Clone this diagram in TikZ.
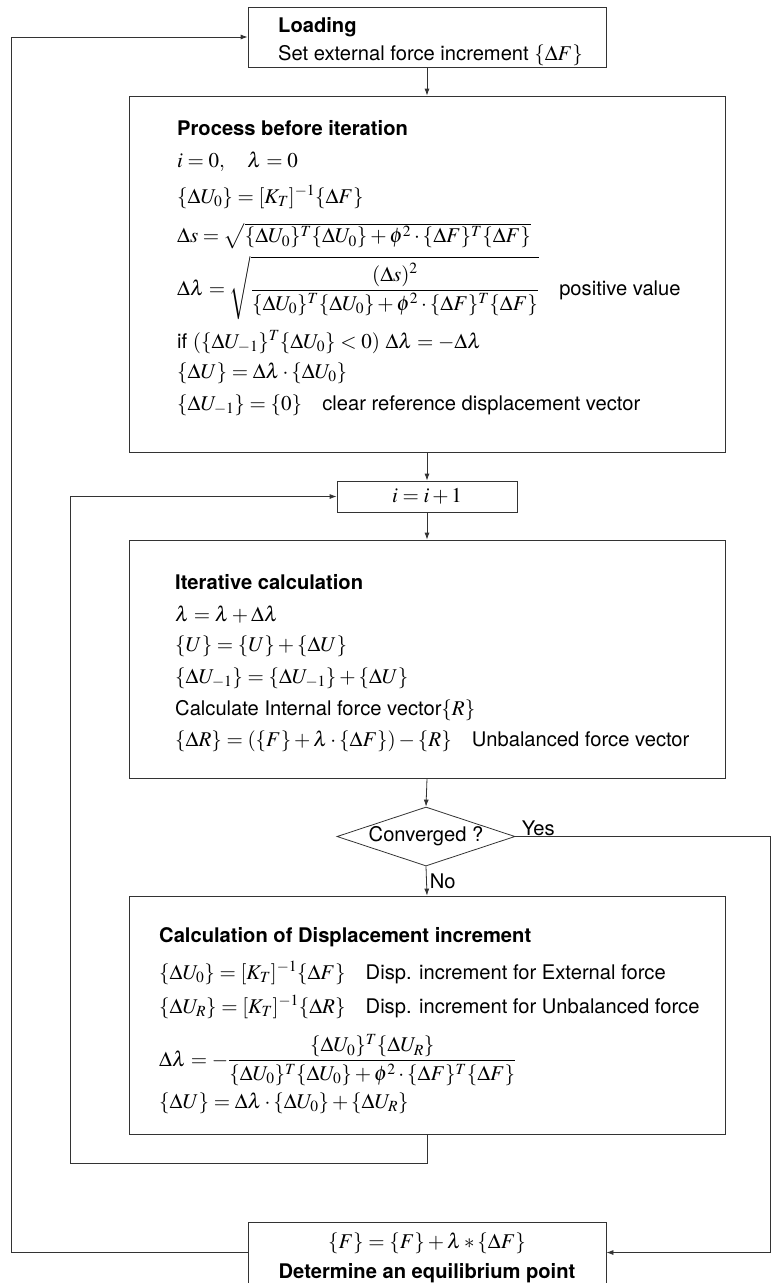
\documentclass[tikz,border=0pt]{standalone}
\usepackage{amsmath}
\usepackage{mathptmx}
\usepackage[no-math]{fontspec}
\setmainfont[Scale=0.96]{TeX Gyre Heros}
\usetikzlibrary{arrows.meta, shapes.geometric}

\begin{document}
\begin{tikzpicture}[
  x=1pt, y=-1pt,
  box/.style={draw=black!80, line width=0.8pt, inner sep=0pt},
  decision/.style={diamond, draw=black!80, line width=0.8pt, inner sep=0pt, aspect=3,
    minimum width=178pt, minimum height=59pt, font=\fontsize{21}{25}\selectfont},
  txt/.style={anchor=west, inner sep=0pt, font=\fontsize{21}{25}\selectfont},
  ttl/.style={anchor=west, inner sep=0pt, font=\fontsize{21}{25}\selectfont\bfseries},
  flow/.style={-{Latex[length=7pt, width=5pt]}, draw=black!80, line width=0.8pt},
]
\useasboundingbox (0,0) rectangle (771,1283);

%% ── Boxes ────────────────────────────────────────────────────────────────────
\node[box, minimum width=358pt, minimum height=60pt]  (load) at (427,37) {};
\node[box, minimum width=596pt, minimum height=356pt] (proc) at (427,274) {};
\node[box, minimum width=180pt, minimum height=31pt, font=\fontsize{21}{25}\selectfont]
  (inc) at (427,496.5) {$i=i+1$};
\node[box, minimum width=596pt, minimum height=238pt] (iter) at (427,659) {};
\node[decision] (conv) at (426,836.5) {Converged ?};
\node[box, minimum width=596pt, minimum height=238pt] (calc) at (427,1015) {};
\node[box, minimum width=358pt, minimum height=61pt]  (eq) at (427,1252.5) {};

%% ── Loading ──────────────────────────────────────────────────────────────────
\node[ttl] (loadttl) at (278,27) {Loading};
\node[txt] (loadtxt) at (278,55) {Set external force increment $\{\Delta F\}$};

%% ── Process before iteration ─────────────────────────────────────────────────
\node[ttl] (procttl) at (177,128) {Process before iteration};
\node[txt] (proc1) at (177,162) {$i=0,\quad \lambda=0$};
\node[txt] (proc2) at (177,197) {$\{\Delta U_0\}=[K_T]^{-1}\{\Delta F\}$};
\node[txt] (proc3) at (177,236)
  {$\Delta s=\sqrt{\{\Delta U_0\}^T\{\Delta U_0\}+\phi^2\cdot\{\Delta F\}^T\{\Delta F\}}$};
\node[txt] (proc4) at (177,288)
  {$\Delta\lambda=\sqrt{\dfrac{(\Delta s)^2}{\{\Delta U_0\}^T\{\Delta U_0\}+\phi^2\cdot\{\Delta F\}^T\{\Delta F\}}}$\quad positive value};
\node[txt] (proc5) at (177,342)
  {if $(\{\Delta U_{-1}\}^T\{\Delta U_0\}<0)\ \Delta\lambda=-\Delta\lambda$};
\node[txt] (proc6) at (177,373) {$\{\Delta U\}=\Delta\lambda\cdot\{\Delta U_0\}$};
\node[txt] (proc7) at (177,405)
  {$\{\Delta U_{-1}\}=\{0\}$\quad clear reference displacement vector};

%% ── Iterative calculation ────────────────────────────────────────────────────
\node[ttl] (iterttl) at (175,582) {Iterative calculation};
\node[txt] (iter1) at (175,615) {$\lambda=\lambda+\Delta\lambda$};
\node[txt] (iter2) at (175,646) {$\{U\}=\{U\}+\{\Delta U\}$};
\node[txt] (iter3) at (175,678) {$\{\Delta U_{-1}\}=\{\Delta U_{-1}\}+\{\Delta U\}$};
\node[txt] (iter4) at (175,710) {Calculate Internal force vector$\{R\}$};
\node[txt] (iter5) at (175,741)
  {$\{\Delta R\}=(\{F\}+\lambda\cdot\{\Delta F\})-\{R\}$\quad Unbalanced force vector};

%% ── Calculation of displacement increment ────────────────────────────────────
\node[ttl] (calcttl) at (159,937) {Calculation of Displacement increment};
\node[txt] (calc1) at (159,973)
  {$\{\Delta U_0\}=[K_T]^{-1}\{\Delta F\}$\quad Disp. increment for External force};
\node[txt] (calc2) at (159,1007)
  {$\{\Delta U_R\}=[K_T]^{-1}\{\Delta R\}$\quad Disp. increment for Unbalanced force};
\node[txt] (calc3) at (159,1060)
  {$\Delta\lambda=-\dfrac{\{\Delta U_0\}^T\{\Delta U_R\}}{\{\Delta U_0\}^T\{\Delta U_0\}+\phi^2\cdot\{\Delta F\}^T\{\Delta F\}}$};
\node[txt] (calc4) at (159,1103)
  {$\{\Delta U\}=\Delta\lambda\cdot\{\Delta U_0\}+\{\Delta U_R\}$};

%% ── Equilibrium ──────────────────────────────────────────────────────────────
\node[txt, anchor=center] (eq1) at (427,1243) {$\{F\}=\{F\}+\lambda*\{\Delta F\}$};
\node[ttl, anchor=center] (eq2) at (427,1273) {Determine an equilibrium point};

%% ── Main flow ────────────────────────────────────────────────────────────────
\draw[flow] (load.south) -- (proc.north);
\draw[flow] (proc.south) -- (inc.north);
\draw[flow] (inc.south) -- (iter.north);
\draw[flow] (iter.south) -- (conv.north);
\draw[flow] (conv.south) -- node[txt, xshift=3pt] (nolbl) {No} (calc.north);

%% ── Loops ────────────────────────────────────────────────────────────────────
\coordinate (loopc) at (70,1163);
\draw[flow] (calc.south) |- (loopc) |- (inc.west);

\coordinate (yesc) at (770,1252.5);
\draw[flow] (conv.east) node[txt, anchor=south west, xshift=6pt] (yeslbl) {Yes}
  -| (yesc) -- (eq.east);

\coordinate (backc) at (11,1252.5);
\draw[flow] (eq.west) -- (backc) |- (load.west);

\end{tikzpicture}
\end{document}
